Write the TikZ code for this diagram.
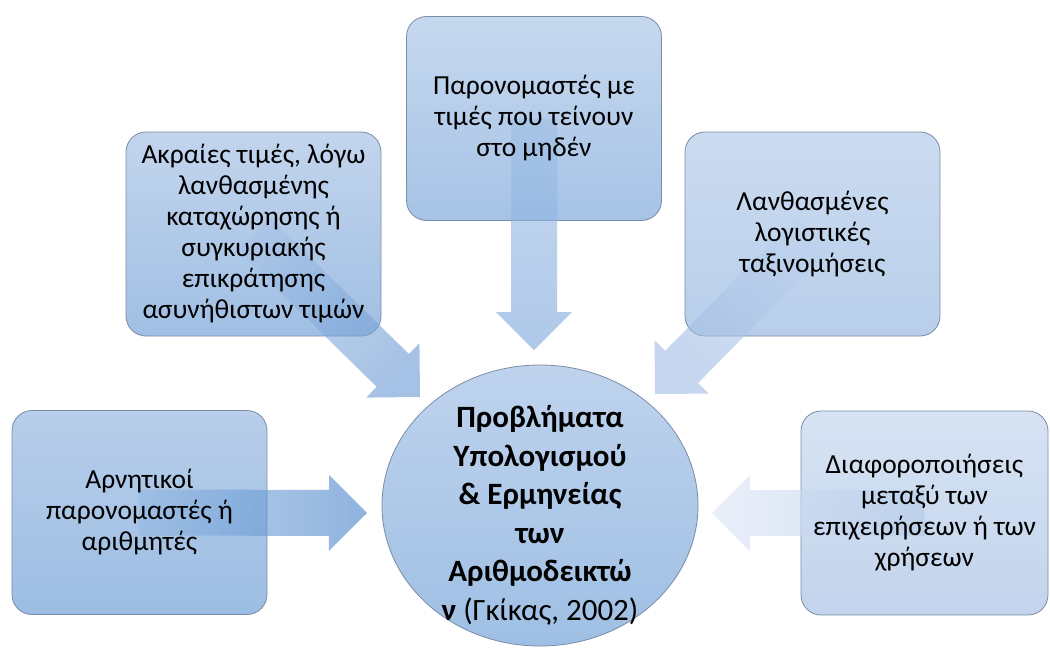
\documentclass[tikz,border=0pt]{standalone}
\usepackage{fontspec}
\setmainfont{Carlito}
\usepackage{tikz}
\usetikzlibrary{calc,shapes.geometric}

\definecolor{boxline}{HTML}{7B8CA6}
\definecolor{akrtop}{HTML}{C3D5ED}
\definecolor{akrbot}{HTML}{A0BFE4}
\definecolor{partop}{HTML}{C6D8EE}
\definecolor{parbot}{HTML}{A6C3E6}
\definecolor{lantop}{HTML}{CCDCF0}
\definecolor{lanbot}{HTML}{B8CEEA}
\definecolor{arntop}{HTML}{B8CEEA}
\definecolor{arnbot}{HTML}{9CBDE3}
\definecolor{diatop}{HTML}{D7E3F3}
\definecolor{diabot}{HTML}{C2D4EC}
\definecolor{probtop}{HTML}{BFD3ED}
\definecolor{probbot}{HTML}{9EBFE4}
% arrow colours: start / tip
\definecolor{akrA}{RGB}{165,194,230}
\definecolor{akrB}{RGB}{105,152,211}
\definecolor{parA}{RGB}{160,192,230}
\definecolor{parB}{RGB}{122,163,219}
\definecolor{lanA}{RGB}{190,210,238}
\definecolor{lanB}{RGB}{158,186,227}
\definecolor{arnA}{RGB}{150,186,226}
\definecolor{arnB}{RGB}{68,127,200}
\definecolor{diaA}{RGB}{180,202,233}
\definecolor{diaB}{RGB}{218,228,245}

\tikzset{
  infobox/.style={draw=boxline,line width=0.8pt,rounded corners=20pt,
    minimum width=255pt,minimum height=204pt,inner sep=0pt},
  boxtext/.style={align=center,inner sep=0pt,
    font=\fontsize{27.5}{31}\selectfont},
  arrowpaint/.style={fill opacity=0.6},
  blockarrow/.style={to path={
    ($(\tikztostart)!23pt!90:(\tikztotarget)$)
    -- ($(\tikztotarget)!38pt!(\tikztostart)!23pt!-90:(\tikztostart)$)
    -- ($(\tikztotarget)!38pt!(\tikztostart)!38pt!-90:(\tikztostart)$)
    -- (\tikztotarget)
    -- ($(\tikztotarget)!38pt!(\tikztostart)!38pt!90:(\tikztostart)$)
    -- ($(\tikztotarget)!38pt!(\tikztostart)!23pt!90:(\tikztostart)$)
    -- ($(\tikztostart)!23pt!-90:(\tikztotarget)$)
    -- cycle}}
}

\begin{document}
\begin{tikzpicture}[x=1pt,y=-1pt]
  \useasboundingbox (0,0) rectangle (1050,654);

  % outer boxes
  \node[infobox,top color=akrtop,bottom color=akrbot] (akr) at (253.5,234) {};
  \node[infobox,top color=partop,bottom color=parbot] (paron) at (534,118.5) {};
  \node[infobox,top color=lantop,bottom color=lanbot] (lanth) at (812.5,234) {};
  \node[infobox,top color=arntop,bottom color=arnbot] (arn) at (139.5,512.5) {};
  \node[infobox,minimum width=247pt,top color=diatop,bottom color=diabot] (diaf) at (924.5,513) {};

  % central ellipse
  \node[draw=boxline,line width=0.8pt,ellipse,minimum width=316pt,minimum height=281pt,
    top color=probtop,bottom color=probbot] (prob) at (540,505.5) {};

  % arrow tips
  \coordinate (tipakr) at (420,397);
  \coordinate (tipparon) at (534,350);
  \coordinate (tiplanth) at (655,394);
  \coordinate (tiparn) at (367,513);
  \coordinate (tipdiaf) at (712,513);

  % block arrows
  \path[arrowpaint,top color=akrA,bottom color=akrB,shading angle=45] (akr) to[blockarrow] (tipakr);
  \path[arrowpaint,top color=parA,bottom color=parB] (paron) to[blockarrow] (tipparon);
  \path[arrowpaint,top color=lanA,bottom color=lanB,shading angle=-45] (lanth) to[blockarrow] (tiplanth);
  \path[arrowpaint,left color=arnA,right color=arnB] (arn) to[blockarrow] (tiparn);
  \path[arrowpaint,left color=diaB,right color=diaA] (diaf) to[blockarrow] (tipdiaf);

  % texts
  \node[boxtext] (akrtext) at (akr) {Ακραίες τιμές, λόγω\\λανθασμένης\\καταχώρησης ή\\συγκυριακής\\επικράτησης\\ασυνήθιστων τιμών};
  \node[boxtext] (parontext) at (paron) {Παρονομαστές με\\τιμές που τείνουν\\στο μηδέν};
  \node[boxtext] (lanthtext) at (lanth) {Λανθασμένες\\λογιστικές\\ταξινομήσεις};
  \node[boxtext] (arntext) at (arn) {Αρνητικοί\\παρονομαστές ή\\αριθμητές};
  \node[boxtext] (diaftext) at (diaf) {Διαφοροποιήσεις\\μεταξύ των\\επιχειρήσεων ή των\\χρήσεων};
  \node[align=center,inner sep=0pt,font=\fontsize{31}{38.5}\selectfont] (probtext) at ($(prob)+(0,10)$)
    {\textbf{Προβλήματα}\\\textbf{Υπολογισμού}\\\textbf{\& Ερμηνείας}\\\textbf{των}\\\textbf{Αριθμοδεικτώ}\\\textbf{ν} (Γκίκας, 2002)};
\end{tikzpicture}
\end{document}
